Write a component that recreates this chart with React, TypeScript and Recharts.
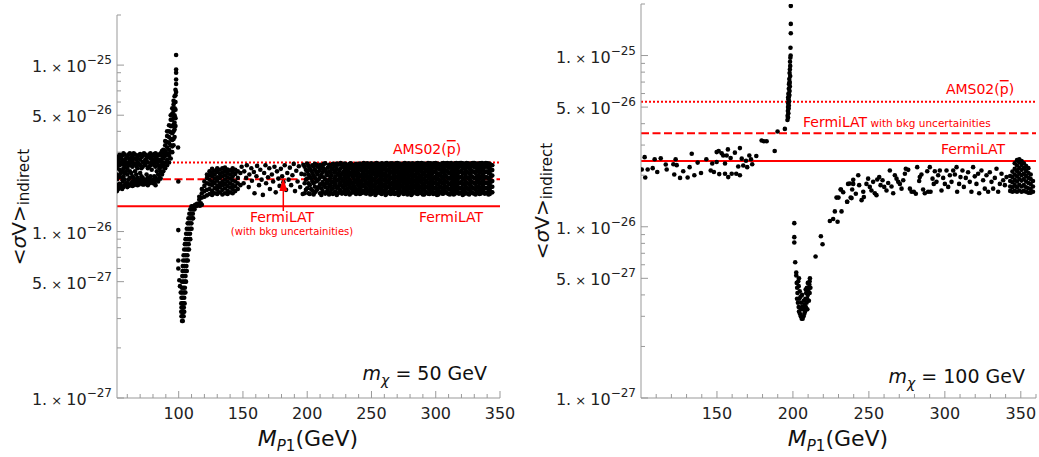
import React from 'react';
import { ScatterChart, Scatter, XAxis, YAxis, ReferenceLine } from 'recharts';

// all sigma-v values are in units of 1e-26 cm^3/s
const RED = '#ff0000';
const FRAME = '#999999';
const FONT = '"DejaVu Sans", sans-serif';

const yMajor = [0.1, 0.5, 1, 5, 10];
const yMinor = [0.2, 0.3, 0.4, 0.6, 0.7, 0.8, 0.9, 2, 3, 4, 6, 7, 8, 9, 20];
const yTickLabels = [
  { v: 0.1, mant: '1.', exp: '−27' },
  { v: 0.5, mant: '5.', exp: '−27' },
  { v: 1, mant: '1.', exp: '−26' },
  { v: 5, mant: '5.', exp: '−26' },
  { v: 10, mant: '1.', exp: '−25' },
];
const leftXMajor = [100, 150, 200, 250, 300, 350];
const leftXMinor = [60, 70, 80, 90, 110, 120, 130, 140, 160, 170, 180, 190, 210, 220, 230, 240, 260, 270, 280, 290, 310, 320, 330, 340];
const rightXMajor = [150, 200, 250, 300, 350];
const rightXMinor = [110, 120, 130, 140, 160, 170, 180, 190, 210, 220, 230, 240, 260, 270, 280, 290, 310, 320, 330, 340, 360];

// limit lines: AMS02 (dotted), FermiLAT with bkg (dashed), FermiLAT (solid)
const leftLimits = [2.6, 2.06, 1.42];
const rightLimits = [5.37, 3.52, 2.42];

type Col = [number, number[]];

// ---- m_chi = 50 GeV ----
const leftBandCols: Col[] = [
  [52, [1.75, 1.9, 2.05, 2.2, 2.4, 2.6, 2.8]],
  [53, [1.8, 2.12, 2.5, 2.7]],
  [54, [1.85, 1.95, 2.15, 2.35, 2.5, 2.75, 2.9]],
  [55, [1.9, 2.25, 2.6, 2.8]],
  [56, [1.8, 2.0, 2.1, 2.3, 2.55, 2.7, 2.85]],
  [57, [1.85, 2.15, 2.4, 2.95]],
  [58, [1.9, 2.05, 2.25, 2.45, 2.65, 2.9]],
  [59, [1.95, 2.3, 2.55, 2.75]],
  [60, [1.85, 1.95, 2.2, 2.4, 2.6, 2.8]],
  [61, [1.88, 2.05, 2.5, 2.9]],
  [62, [1.9, 2.1, 2.3, 2.5, 2.7, 2.95]],
  [63, [1.95, 2.25, 2.6, 2.78]],
  [64, [1.88, 2.0, 2.15, 2.45, 2.65, 2.85]],
  [65, [1.9, 2.1, 2.55, 2.95]],
  [66, [1.92, 2.05, 2.3, 2.55, 2.75, 2.9]],
  [67, [1.98, 2.2, 2.48, 2.7]],
  [68, [1.9, 2.1, 2.4, 2.6, 2.8]],
  [69, [1.92, 2.02, 2.55, 2.88]],
  [70, [1.95, 2.05, 2.25, 2.5, 2.7, 2.92]],
  [71, [1.98, 2.15, 2.4, 2.8]],
  [72, [1.92, 2.1, 2.45, 2.62, 2.85]],
  [73, [1.92, 2.0, 2.58, 2.95]],
  [74, [1.95, 2.05, 2.5, 2.7, 2.9]],
  [75, [2.0, 2.2, 2.65, 2.82]],
  [76, [1.9, 2.1, 2.4, 2.6, 2.8]],
  [77, [1.95, 2.05, 2.45, 2.9]],
  [78, [1.98, 2.15, 2.5, 2.75, 2.95]],
  [79, [2.02, 2.35, 2.62, 2.8]],
  [80, [1.95, 2.05, 2.55, 2.7, 2.88]],
  [81, [1.98, 2.15, 2.5, 2.92]],
  [82, [1.9, 2.1, 2.45, 2.65, 2.8, 2.95]],
  [83, [2.05, 2.3, 2.6, 2.82]],
  [84, [2.0, 2.2, 2.5, 2.7, 2.9]],
  [85, [2.1, 2.4, 2.65, 2.88]],
  [86, [2.08, 2.3, 2.5, 2.7, 2.95]],
  [87, [2.2, 2.45, 2.62, 2.85, 3.05]],
  [88, [2.3, 2.5, 2.75, 2.95, 3.1]],
  [89.5, [2.4, 2.6, 2.85, 3.05, 3.3, 3.5]],
  [91, [2.5, 2.7, 2.95, 3.2, 3.45, 3.75, 4.0]],
  [92.5, [2.6, 2.85, 3.1, 3.4, 3.7, 4.0, 4.35]],
  [93.8, [2.75, 3.0, 3.3, 3.6, 3.95, 4.3, 4.7, 5.0]],
  [95, [3.0, 3.25, 3.55, 3.9, 4.3, 4.7, 5.1, 5.5]],
  [96, [3.3, 3.6, 4.0, 4.4, 4.8, 5.3, 5.8, 6.1]],
  [96.8, [3.7, 4.1, 4.5, 5.0, 5.5, 6.0, 6.5]],
  [97.5, [4.3, 4.8, 5.4, 6.0, 6.6, 7.1]],
  [98, [6.9, 7.7, 8.2, 9.0, 9.4, 11.5]],
];
const leftOutliers = [[99.5, 3.2], [99.7, 2.0], [99.7, 1.02], [99.7, 0.67], [99.7, 0.6], [100.5, 0.51], [101, 0.47], [101.6, 0.43]];
const leftFallRows: Col[] = [
  [0.29, [102.6, 103.2]],
  [0.31, [102.2, 103, 103.8]],
  [0.33, [102, 102.8, 103.6, 104.3]],
  [0.35, [102.2, 103, 104]],
  [0.37, [102, 102.9, 103.8, 104.6]],
  [0.4, [102.2, 103.2, 104.3]],
  [0.43, [102.3, 103.4, 104.5, 105.2]],
  [0.46, [102.5, 103.6, 104.8]],
  [0.5, [102.6, 103.8, 105, 105.7]],
  [0.54, [102.8, 104, 105.3]],
  [0.58, [103, 104.3, 105.6, 106.3]],
  [0.62, [103.2, 104.6, 106]],
  [0.67, [103.5, 105, 106.4, 107.1]],
  [0.72, [103.8, 105.3, 106.8]],
  [0.78, [104.3, 105.8, 107.3, 108]],
  [0.84, [104.8, 106.3, 107.8]],
  [0.9, [105.3, 106.8, 108.3, 109]],
  [0.97, [105.8, 107.3, 108.8]],
  [1.04, [106.3, 107.8, 109.3, 110]],
  [1.12, [107, 108.4, 109.9]],
  [1.2, [107.6, 109, 110.5, 111.2]],
  [1.28, [108.3, 109.6, 111]],
  [1.36, [109, 110.3, 111.6, 112.3]],
  [1.42, [110, 111.2, 112.2]],
];
const leftFlat = [[112.8, 1.45], [113.5, 1.42], [114.3, 1.47], [115, 1.44], [115.8, 1.46], [116.5, 1.43], [117.2, 1.48], [118, 1.45]];
const leftCloudCols: Col[] = [
  [116, [1.55, 1.62]],
  [118, [1.6, 1.7, 1.8]],
  [120, [1.62, 1.75, 1.88, 2.0]],
  [122, [1.65, 1.78, 1.95, 2.1, 2.2]],
  [124, [1.68, 1.8, 1.92, 2.05, 2.18, 2.3]],
  [126, [1.66, 1.75, 1.9, 2.0, 2.15, 2.25, 2.38]],
  [128, [1.7, 1.82, 1.96, 2.08, 2.2, 2.32]],
  [130, [1.68, 1.78, 1.88, 2.02, 2.12, 2.28, 2.4]],
  [132, [1.72, 1.85, 1.95, 2.1, 2.22, 2.35]],
  [134, [1.67, 1.78, 1.9, 2.0, 2.15, 2.27, 2.4]],
  [136, [1.7, 1.82, 1.93, 2.05, 2.18, 2.3, 2.42]],
  [138, [1.68, 1.76, 1.88, 2.0, 2.12, 2.25, 2.36]],
  [140, [1.72, 1.84, 1.95, 2.08, 2.2, 2.33]],
  [142, [1.7, 1.8, 1.9, 2.03, 2.15, 2.28, 2.4]],
  [144, [1.75, 1.87, 2.0, 2.22, 2.35]],
  [146, [1.8, 1.95, 2.1, 2.3]],
  [148, [1.9, 2.25]],
];
const leftSparse = [
  [149, 2.45], [150.5, 1.95], [151, 2.3], [152.5, 2.1], [153, 2.5], [154.5, 1.85], [155, 2.2], [156.5, 2.4],
  [157, 2.02], [158.5, 2.28], [159, 1.7], [160.5, 2.15], [161, 2.48], [162.5, 1.9], [163.5, 2.35], [164.5, 2.05],
  [165.5, 1.66], [166.5, 2.25], [167.5, 2.5], [168, 1.95], [169.5, 2.12], [170.5, 2.4], [171, 1.8], [172.5, 2.2],
  [173.5, 2.0], [174.5, 2.45], [175.5, 1.72], [176.5, 2.3], [177.5, 2.08], [178.5, 1.88], [179.5, 2.38], [180.5, 2.15],
  [181.5, 1.98], [182.5, 2.5], [183.5, 1.78], [184.5, 2.25], [185.5, 2.05], [186.5, 2.42], [187.5, 1.9], [188.5, 2.18],
  [189.5, 2.55], [190.5, 1.75], [191.5, 2.32], [192.5, 2.0], [193.5, 2.47], [194.5, 1.85], [195.5, 2.22], [196.5, 1.68], [197, 2.52],
];
const leftDenseCols: Col[] = [
  [198, [1.7, 1.95, 2.2, 2.45]], [200, [1.82, 2.08, 2.3, 2.56]], [202, [1.68, 1.9, 2.15, 2.4]],
  [204, [1.76, 2.0, 2.25, 2.5]], [206, [1.72, 1.86, 2.1, 2.35, 2.55]], [208, [1.8, 2.02, 2.2, 2.45]],
  [210, [1.7, 1.92, 2.12, 2.38, 2.52]], [212, [1.75, 1.98, 2.28, 2.48]], [214, [1.69, 1.85, 2.06, 2.32, 2.57]],
  [216, [1.78, 1.95, 2.18, 2.42]], [218, [1.72, 1.88, 2.1, 2.26, 2.5]], [220, [1.68, 1.82, 2.0, 2.36, 2.55]],
  [222, [1.74, 1.93, 2.15, 2.3, 2.46]], [224, [1.7, 1.86, 2.05, 2.22, 2.52]], [226, [1.77, 1.97, 2.12, 2.4, 2.58]],
  [228, [1.71, 1.84, 2.02, 2.28, 2.47]], [230, [1.68, 1.9, 2.08, 2.2, 2.36, 2.54]], [232, [1.75, 1.96, 2.14, 2.32, 2.5]],
  [234, [1.7, 1.83, 2.0, 2.25, 2.43, 2.57]], [236, [1.73, 1.9, 2.1, 2.3, 2.48]], [238, [1.68, 1.8, 1.98, 2.18, 2.38, 2.55]],
  [240, [1.72, 1.88, 2.05, 2.24, 2.44]], [242, [1.7, 1.85, 2.0, 2.16, 2.34, 2.52]], [244, [1.76, 1.92, 2.1, 2.28, 2.46, 2.58]],
  [246, [1.69, 1.82, 1.97, 2.2, 2.4, 2.55]], [248, [1.74, 1.9, 2.06, 2.26, 2.5]], [250, [1.68, 1.8, 1.95, 2.12, 2.32, 2.45, 2.57]],
  [252, [1.72, 1.86, 2.02, 2.2, 2.38, 2.53]], [254, [1.7, 1.82, 1.98, 2.15, 2.3, 2.48, 2.58]], [256, [1.75, 1.9, 2.06, 2.24, 2.42, 2.55]],
  [258, [1.68, 1.8, 1.94, 2.1, 2.28, 2.46, 2.57]], [260, [1.73, 1.87, 2.02, 2.18, 2.36, 2.52]], [262, [1.69, 1.83, 1.98, 2.14, 2.32, 2.5, 2.58]],
  [264, [1.74, 1.9, 2.06, 2.22, 2.4, 2.55]], [266, [1.7, 1.82, 1.96, 2.12, 2.3, 2.46, 2.57]], [268, [1.68, 1.86, 2.02, 2.19, 2.37, 2.53]],
  [270, [1.72, 1.85, 1.99, 2.15, 2.33, 2.49, 2.58]], [272, [1.69, 1.8, 1.93, 2.08, 2.26, 2.44, 2.56]], [274, [1.74, 1.88, 2.04, 2.2, 2.38, 2.52]],
  [276, [1.7, 1.83, 1.97, 2.13, 2.3, 2.47, 2.58]], [278, [1.67, 1.79, 1.92, 2.06, 2.24, 2.41, 2.55]], [280, [1.72, 1.86, 2.0, 2.17, 2.35, 2.5]],
  [282, [1.69, 1.81, 1.95, 2.1, 2.28, 2.45, 2.57]], [284, [1.74, 1.88, 2.03, 2.2, 2.38, 2.54]], [286, [1.68, 1.8, 1.93, 2.08, 2.25, 2.42, 2.58]],
  [288, [1.71, 1.84, 1.99, 2.15, 2.32, 2.49, 2.57]], [290, [1.67, 1.78, 1.91, 2.05, 2.22, 2.4, 2.55]], [292, [1.73, 1.87, 2.02, 2.18, 2.36, 2.52]],
  [294, [1.69, 1.82, 1.96, 2.12, 2.29, 2.46, 2.58]], [296, [1.72, 1.85, 2.0, 2.16, 2.34, 2.5, 2.57]], [298, [1.68, 1.8, 1.94, 2.09, 2.26, 2.43, 2.56]],
  [300, [1.71, 1.84, 1.98, 2.14, 2.31, 2.48, 2.58]], [302, [1.67, 1.79, 1.92, 2.07, 2.23, 2.4, 2.55]], [304, [1.73, 1.86, 2.01, 2.17, 2.35, 2.51]],
  [306, [1.69, 1.81, 1.95, 2.11, 2.28, 2.45, 2.58]], [308, [1.72, 1.85, 1.99, 2.15, 2.32, 2.49, 2.57]], [310, [1.68, 1.8, 1.93, 2.08, 2.25, 2.42, 2.56]],
  [312, [1.71, 1.83, 1.97, 2.13, 2.3, 2.47, 2.58]], [314, [1.67, 1.78, 1.91, 2.06, 2.22, 2.39, 2.54]], [316, [1.73, 1.86, 2.0, 2.16, 2.34, 2.5, 2.58]],
  [318, [1.69, 1.82, 1.96, 2.11, 2.28, 2.45, 2.57]], [320, [1.72, 1.84, 1.98, 2.14, 2.31, 2.48, 2.58]], [322, [1.68, 1.8, 1.93, 2.08, 2.24, 2.41, 2.56]],
  [324, [1.7, 1.83, 1.97, 2.12, 2.29, 2.46, 2.58]], [326, [1.67, 1.79, 1.92, 2.07, 2.23, 2.4, 2.55]], [328, [1.72, 1.85, 1.99, 2.15, 2.32, 2.49, 2.57]],
  [330, [1.69, 1.81, 1.95, 2.1, 2.27, 2.44, 2.58]], [332, [1.71, 1.84, 1.98, 2.13, 2.3, 2.47, 2.56]], [334, [1.68, 1.8, 1.94, 2.09, 2.26, 2.43, 2.57]],
  [336, [1.72, 1.85, 2.0, 2.16, 2.33, 2.5, 2.58]], [338, [1.69, 1.82, 1.96, 2.11, 2.28, 2.45, 2.56]], [340, [1.71, 1.83, 1.97, 2.12, 2.29, 2.46, 2.57]],
  [342, [1.68, 1.8, 1.93, 2.07, 2.24, 2.41, 2.55]], [344, [1.72, 1.86, 2.01, 2.17, 2.34, 2.5]],
];
const leftDenseOddCols: Col[] = [
  [199, [1.78, 2.05, 2.35]], [201, [1.7, 1.95, 2.2, 2.48]], [203, [1.8, 2.08, 2.32]], [205, [1.67, 1.95, 2.18, 2.45]],
  [207, [1.76, 2.0, 2.28, 2.52]], [209, [1.85, 2.06, 2.3]], [211, [1.66, 1.82, 2.2, 2.44]], [213, [1.9, 2.12, 2.38, 2.55]],
  [215, [1.73, 1.96, 2.22]], [217, [1.67, 1.86, 2.04, 2.3, 2.52]], [219, [1.8, 1.98, 2.18, 2.4]], [221, [1.72, 1.9, 2.08, 2.26, 2.48]],
  [223, [1.66, 1.83, 2.02, 2.38, 2.56]], [225, [1.78, 1.93, 2.16, 2.32]], [227, [1.69, 1.88, 2.06, 2.22, 2.52]], [229, [1.76, 1.95, 2.14, 2.4, 2.56]],
  [231, [1.72, 1.82, 2.0, 2.28, 2.45]], [233, [1.67, 1.88, 2.06, 2.22, 2.4, 2.55]], [235, [1.78, 1.95, 2.16, 2.36, 2.52]], [237, [1.71, 1.86, 2.03, 2.25, 2.44]],
  [239, [1.75, 1.93, 2.1, 2.3, 2.48]], [241, [1.68, 1.8, 1.96, 2.14, 2.38, 2.56]], [243, [1.74, 1.9, 2.05, 2.22, 2.42]], [245, [1.7, 1.85, 2.02, 2.16, 2.33, 2.5]],
  [247, [1.77, 1.93, 2.1, 2.3, 2.45, 2.57]], [249, [1.67, 1.83, 2.0, 2.18, 2.38, 2.54]], [251, [1.75, 1.89, 2.06, 2.25, 2.41, 2.52]], [253, [1.66, 1.78, 1.93, 2.1, 2.26, 2.44, 2.56]],
  [255, [1.72, 1.85, 2.0, 2.18, 2.35, 2.5]], [257, [1.7, 1.83, 1.98, 2.15, 2.33, 2.52]], [259, [1.76, 1.9, 2.05, 2.22, 2.4, 2.55]], [261, [1.66, 1.79, 1.92, 2.08, 2.25, 2.44, 2.57]],
  [263, [1.72, 1.86, 2.0, 2.17, 2.35, 2.52]], [265, [1.68, 1.8, 1.94, 2.1, 2.27, 2.43, 2.56]], [267, [1.75, 1.89, 2.05, 2.22, 2.4, 2.54]], [269, [1.7, 1.82, 1.96, 2.11, 2.28, 2.46, 2.57]],
  [271, [1.66, 1.78, 1.91, 2.07, 2.24, 2.42, 2.55]], [273, [1.73, 1.86, 2.0, 2.16, 2.33, 2.5]], [275, [1.68, 1.8, 1.95, 2.1, 2.27, 2.44, 2.56]], [277, [1.74, 1.88, 2.03, 2.2, 2.37, 2.53]],
  [279, [1.7, 1.83, 1.97, 2.13, 2.3, 2.48, 2.57]], [281, [1.66, 1.78, 1.91, 2.05, 2.22, 2.4, 2.55]], [283, [1.72, 1.85, 2.0, 2.16, 2.34, 2.51]], [285, [1.69, 1.81, 1.96, 2.12, 2.3, 2.47, 2.57]],
  [287, [1.75, 1.88, 2.04, 2.2, 2.38, 2.54]], [289, [1.7, 1.83, 1.97, 2.13, 2.3, 2.46, 2.58]], [291, [1.67, 1.8, 1.94, 2.09, 2.27, 2.44, 2.56]], [293, [1.72, 1.86, 2.01, 2.17, 2.34, 2.51]],
  [295, [1.68, 1.79, 1.93, 2.08, 2.24, 2.41, 2.55]], [297, [1.74, 1.88, 2.03, 2.2, 2.38, 2.54]], [299, [1.7, 1.82, 1.96, 2.12, 2.29, 2.46, 2.57]], [301, [1.66, 1.78, 1.92, 2.06, 2.22, 2.4, 2.55]],
  [303, [1.73, 1.86, 2.01, 2.18, 2.36, 2.52]], [305, [1.69, 1.81, 1.95, 2.1, 2.27, 2.44, 2.57]], [307, [1.75, 1.88, 2.03, 2.2, 2.37, 2.53]], [309, [1.7, 1.83, 1.97, 2.12, 2.29, 2.47, 2.58]],
  [311, [1.67, 1.79, 1.93, 2.08, 2.25, 2.42, 2.55]], [313, [1.73, 1.86, 2.01, 2.17, 2.34, 2.51]], [315, [1.69, 1.81, 1.95, 2.11, 2.28, 2.45, 2.57]], [317, [1.75, 1.88, 2.04, 2.2, 2.38, 2.54]],
  [319, [1.7, 1.82, 1.96, 2.12, 2.29, 2.46, 2.58]], [321, [1.66, 1.78, 1.92, 2.07, 2.24, 2.41, 2.56]], [323, [1.73, 1.86, 2.0, 2.16, 2.34, 2.51]], [325, [1.69, 1.81, 1.95, 2.1, 2.27, 2.44, 2.57]],
  [327, [1.75, 1.88, 2.03, 2.19, 2.36, 2.53]], [329, [1.7, 1.83, 1.97, 2.12, 2.29, 2.47, 2.58]], [331, [1.67, 1.79, 1.93, 2.08, 2.25, 2.42, 2.55]], [333, [1.73, 1.86, 2.01, 2.17, 2.35, 2.52]],
  [335, [1.69, 1.81, 1.95, 2.11, 2.28, 2.45, 2.57]], [337, [1.75, 1.88, 2.04, 2.2, 2.38, 2.54]], [339, [1.7, 1.82, 1.96, 2.12, 2.29, 2.46, 2.58]], [341, [1.67, 1.79, 1.93, 2.08, 2.25, 2.42, 2.56]],
  [343, [1.73, 1.86, 2.0, 2.16, 2.34, 2.51]],
];

// ---- m_chi = 100 GeV ----
const rightLow = [
  [100.5, 2.16], [102.4, 2.55], [102.8, 1.94], [104.4, 2.16], [107.7, 2.2], [109, 2.48], [110.7, 2.09], [113, 2.51],
  [116.3, 2.31], [116.9, 2.16], [121.3, 2.32], [121.9, 2.02], [122.8, 2.48], [123.5, 2.29], [125.7, 1.93], [127.8, 2.11],
  [130.7, 1.94], [132, 2.23], [133.4, 2.67], [135.1, 2.0], [137.3, 2.37], [139.5, 2.06], [143, 2.48], [145.9, 2.13],
  [146.9, 2.34], [148, 2.09], [149.8, 2.73], [149.8, 2.39], [151.1, 2.77], [151.5, 2.03], [153.1, 2.69], [154.1, 2.61],
  [155.3, 2.34], [155.3, 2.04], [156.4, 2.61], [157.2, 2.83], [157.4, 1.95], [159, 2.52], [159.7, 2.04], [161.8, 2.71],
  [162.7, 2.04], [164, 2.25], [165.1, 2.88], [165.1, 2.0], [166.3, 2.5], [167.3, 2.28], [169.1, 2.43], [169.9, 2.23],
  [171.3, 2.61], [172.4, 2.48], [173.2, 2.32], [175.9, 2.59], [179.4, 3.19], [180.9, 3.16], [182.7, 3.16], [188, 2.77],
  [189.9, 3.6], [194.7, 3.73],
];
const rightSpike = [
  [198.6, 19.5], [198.6, 15.3], [198.6, 13.5], [198.4, 11.1], [198.5, 10.0], [198.3, 9.7], [198.1, 9.2], [198.2, 8.7],
  [198.0, 8.3], [197.8, 7.9], [198.2, 7.6], [197.6, 7.3], [197.9, 7.0], [197.5, 6.8], [198.0, 6.6], [197.3, 6.4],
  [197.8, 6.2], [197.1, 6.0], [197.6, 5.85], [197.2, 5.7], [197.0, 5.55], [197.5, 5.4], [196.9, 5.25], [197.3, 5.1],
  [196.8, 5.0], [197.2, 4.9], [196.7, 4.75], [197.0, 4.6], [196.5, 4.45], [196.8, 4.35], [196.4, 4.2], [197.4, 5.95],
  [196.9, 5.7], [197.6, 6.9], [197.1, 5.35],
];
const rightDip = [
  [200.9, 1.05], [200.9, 0.87], [200.9, 0.81], [201.5, 0.62], [202.2, 0.54], [202.2, 0.52],
  [202.5, 0.47], [202.8, 0.44], [203, 0.41], [202.7, 0.38], [203.3, 0.36], [203.8, 0.34], [204, 0.32], [204.6, 0.31],
  [205.2, 0.3], [205.8, 0.29], [206.4, 0.29], [207, 0.3], [207.5, 0.31], [208, 0.32], [208.5, 0.34], [209, 0.36],
  [209.4, 0.38], [209.8, 0.4], [210.2, 0.42], [210.5, 0.44], [210.8, 0.46], [211, 0.48], [211.2, 0.5], [203.8, 0.45],
  [204.5, 0.42], [205, 0.39], [205.5, 0.36], [206, 0.34], [206.8, 0.33], [207.6, 0.35], [208.2, 0.38], [208.7, 0.41],
  [209.2, 0.44], [209.8, 0.47], [204.2, 0.38], [205.3, 0.33], [207.2, 0.37], [208.4, 0.43], [206, 0.4], [209.5, 0.33],
  [210.5, 0.37], [211, 0.41], [211.5, 0.44], [203.5, 0.48], [204, 0.5],
  [214.9, 0.67], [218.4, 0.88], [219.5, 0.79], [224.3, 1.08], [226.5, 1.11], [229.4, 1.07], [227.6, 1.23], [232, 1.23],
  [228.7, 1.48], [230, 1.48], [231.4, 1.65], [233.1, 1.59], [235.7, 1.4], [236.3, 1.78], [238, 1.48], [237.5, 1.79], [239.7, 1.88],
];
const rightCloud = [
  [231.6, 1.65], [235.7, 1.4], [238.6, 1.47], [239.7, 1.78], [239, 1.65], [243, 2.0], [243.6, 1.75], [241.4, 1.56],
  [245.2, 1.43], [246.3, 1.6], [246.7, 1.49], [248.4, 1.78], [249.5, 1.91], [250.6, 1.71], [251.7, 1.63], [252.8, 1.83],
  [253.9, 1.57], [255, 1.53], [255.5, 1.89], [256.8, 1.95], [257.7, 1.75], [259, 1.87], [260.1, 1.71], [261.6, 1.63],
  [262.7, 1.8], [263.8, 2.13], [264.9, 1.72], [266, 1.57], [267.1, 2.0], [268.2, 1.91], [269.3, 1.83], [270.4, 1.78],
  [271.5, 1.67], [272.6, 1.87], [273.7, 2.04], [274.3, 2.18], [275.9, 2.15], [277, 1.67], [278.1, 1.6], [279.6, 1.6],
  [280.9, 1.56], [281.8, 2.23], [283.1, 1.85], [283.5, 1.95], [284.6, 2.02], [285.7, 1.65], [286.8, 1.57], [288.4, 2.11],
  [289, 1.6], [290.1, 2.23], [290.6, 1.6], [291.9, 1.91], [292.7, 1.78], [293.4, 2.11], [294.5, 1.83], [295.6, 2.0],
  [296.7, 2.13], [297.8, 1.63], [298.9, 1.93], [300, 1.78], [301.1, 2.13], [302.2, 1.71], [303.3, 2.0], [304.4, 1.83],
  [305.5, 2.13], [306.6, 2.02], [307.7, 2.23], [308.1, 1.6], [309.4, 1.78], [310.3, 1.95], [311.6, 2.13], [312.5, 1.71],
  [313.8, 1.93], [315.3, 2.08], [316.4, 1.83], [317.5, 1.6], [318.6, 2.23], [319.7, 1.97], [320.8, 1.78], [321.9, 2.04],
  [322.6, 1.57], [324.1, 2.13], [325.2, 1.87], [326.3, 1.67], [327.4, 2.0], [328.5, 1.6], [329.6, 2.08], [330.7, 1.83],
  [331.8, 1.67], [332.9, 1.93], [334, 2.18], [335.1, 1.6], [336.2, 1.78], [337.3, 2.04], [338.4, 1.87], [339.5, 1.75], [340.6, 1.95],
];
const rightEdgeCols: Col[] = [
  [343, [1.62, 1.72, 1.85, 1.98]],
  [344.5, [1.6, 1.7, 1.82, 1.95, 2.1]],
  [346, [1.62, 1.75, 1.88, 2.02, 2.18, 2.35]],
  [347.5, [1.6, 1.7, 1.84, 1.97, 2.12, 2.28, 2.45]],
  [349, [1.63, 1.76, 1.9, 2.05, 2.2, 2.38, 2.48]],
  [350.5, [1.6, 1.72, 1.86, 2.0, 2.15, 2.3, 2.42]],
  [352, [1.62, 1.75, 1.9, 2.04, 2.2, 2.35]],
  [353.5, [1.6, 1.7, 1.84, 1.98, 2.12, 2.26]],
  [355, [1.58, 1.68, 1.8, 1.93, 2.06, 2.2]],
  [356.5, [1.58, 1.66, 1.78, 1.9, 2.02]],
  [358, [1.6, 1.72, 1.85]],
];

const fromCols = (cols: Col[]) => cols.flatMap(([x, ys]) => ys.map((y) => ({ x, y })));
const fromRows = (rows: Col[]) => rows.flatMap(([y, xs]) => xs.map((x) => ({ x, y })));
const fromPairs = (ps: number[][]) => ps.map(([x, y]) => ({ x, y }));

const leftData = [
  ...fromCols(leftBandCols), ...fromPairs(leftOutliers), ...fromRows(leftFallRows), ...fromPairs(leftFlat),
  ...fromCols(leftCloudCols), ...fromPairs(leftSparse), ...fromCols(leftDenseCols), ...fromCols(leftDenseOddCols),
];
const rightData = [
  ...fromPairs(rightLow), ...fromPairs(rightSpike), ...fromPairs(rightDip), ...fromPairs(rightCloud), ...fromCols(rightEdgeCols),
];

const Dot = (p: any) => <circle cx={p.cx} cy={p.cy} r={2.3} fill="#000" />;

function FrameTick(props: any) {
  const { x, y, payload, side, majors } = props;
  const v = payload.value;
  const major = majors.includes(v);
  const len = major ? 7 : 4;
  let line = null;
  let label = null;
  if (side === 'bottom') {
    line = <line x1={x} y1={y} x2={x} y2={y - len} stroke={FRAME} />;
    if (major) label = <text x={x} y={y + 21} textAnchor="middle" fontSize={16} fill="#222" fontFamily={FONT}>{v}</text>;
  } else if (side === 'top') {
    line = <line x1={x} y1={y} x2={x} y2={y + len} stroke={FRAME} />;
  } else if (side === 'left') {
    line = <line x1={x} y1={y} x2={x + len} y2={y} stroke={FRAME} />;
    const lab = yTickLabels.find((t) => t.v === v);
    if (lab) {
      label = (
        <text x={x - 5} y={y + 7} textAnchor="end" fontSize={16} fill="#222" fontFamily={FONT}>
          {lab.mant}
          <tspan fontSize={13}> × </tspan>
          10
          <tspan dy={-8} fontSize={12}>{lab.exp}</tspan>
        </text>
      );
    }
  } else {
    line = <line x1={x} y1={y} x2={x - len} y2={y} stroke={FRAME} />;
  }
  return <g>{line}{label}</g>;
}

function Panel({ data, xDomain, xMajor, xMinor, limits, left, width, marginTop, yAxisWidth, marginRight }: any) {
  const xTicks = [...xMajor, ...xMinor].sort((a: number, b: number) => a - b);
  const yTicks = [...yMajor, ...yMinor].sort((a, b) => a - b);
  const axisLine = { stroke: FRAME };
  return (
    <div style={{ position: 'absolute', left, top: 0 }}>
      <ScatterChart width={width} height={457} margin={{ top: marginTop, right: marginRight, bottom: 0, left: 0 }}>
        <XAxis xAxisId="b" dataKey="x" type="number" domain={xDomain} allowDataOverflow ticks={xTicks} interval={0}
          height={59} tickSize={0} tickMargin={0} tickLine={false} axisLine={axisLine}
          tick={<FrameTick side="bottom" majors={xMajor} />} />
        <XAxis xAxisId="t" orientation="top" dataKey="x" type="number" domain={xDomain} allowDataOverflow ticks={xTicks} interval={0}
          height={0} tickSize={0} tickMargin={0} tickLine={false} axisLine={axisLine}
          tick={<FrameTick side="top" majors={xMajor} />} />
        <YAxis yAxisId="l" dataKey="y" type="number" scale="log" domain={[0.1, 20]} allowDataOverflow ticks={yTicks} interval={0}
          width={yAxisWidth} tickSize={0} tickMargin={0} tickLine={false} axisLine={axisLine}
          tick={<FrameTick side="left" majors={yMajor} />} />
        <YAxis yAxisId="r" orientation="right" dataKey="y" type="number" scale="log" domain={[0.1, 20]} allowDataOverflow ticks={yTicks} interval={0}
          width={0} tickSize={0} tickMargin={0} tickLine={false} axisLine={axisLine}
          tick={<FrameTick side="right" majors={yMajor} />} />
        <ReferenceLine xAxisId="b" yAxisId="l" y={limits[0]} stroke={RED} strokeWidth={2} strokeDasharray="2 2" />
        <ReferenceLine xAxisId="b" yAxisId="l" y={limits[1]} stroke={RED} strokeWidth={2} strokeDasharray="8 3.5" />
        <ReferenceLine xAxisId="b" yAxisId="l" y={limits[2]} stroke={RED} strokeWidth={2} />
        <Scatter xAxisId="b" yAxisId="l" data={data} shape={Dot} isAnimationActive={false} />
      </ScatterChart>
    </div>
  );
}

const Pbar = () => <tspan style={{ textDecoration: 'overline' }}>p</tspan>;

export default function App() {
  return (
    <div style={{ position: 'absolute', left: 0, top: 0, width: 1039, height: 457, background: '#fff', fontFamily: FONT }}>
      <Panel data={leftData} xDomain={[52, 350]} xMajor={leftXMajor} xMinor={leftXMinor} limits={leftLimits}
        left={0} width={520} marginTop={15} yAxisWidth={117} marginRight={20} />
      <Panel data={rightData} xDomain={[100, 360]} xMajor={rightXMajor} xMinor={rightXMinor} limits={rightLimits}
        left={520} width={519} marginTop={4} yAxisWidth={121} marginRight={3} />
      <svg width={1039} height={457} style={{ position: 'absolute', left: 0, top: 0, pointerEvents: 'none' }} fontFamily={FONT}>
        {/* axis titles */}
        <text transform="translate(26,207) rotate(-90)" textAnchor="middle" fontSize={20} fill="#111">
          &lt;<tspan fontStyle="italic">σ</tspan>V&gt;<tspan fontSize={15} dy={3}>indirect</tspan>
        </text>
        <text transform="translate(549,201) rotate(-90)" textAnchor="middle" fontSize={20} fill="#111">
          &lt;<tspan fontStyle="italic">σ</tspan>V&gt;<tspan fontSize={15} dy={3}>indirect</tspan>
        </text>
        <text x={308} y={446} textAnchor="middle" fontSize={22} fill="#111">
          <tspan fontStyle="italic">M</tspan><tspan fontSize={15} dy={5}><tspan fontStyle="italic">P</tspan>1</tspan><tspan dy={-5}>(GeV)</tspan>
        </text>
        <text x={838} y={446} textAnchor="middle" fontSize={22} fill="#111">
          <tspan fontStyle="italic">M</tspan><tspan fontSize={15} dy={5}><tspan fontStyle="italic">P</tspan>1</tspan><tspan dy={-5}>(GeV)</tspan>
        </text>
        {/* mass labels */}
        <text x={487} y={380} textAnchor="end" fontSize={19} fill="#111">
          <tspan fontStyle="italic">m</tspan><tspan fontStyle="italic" fontSize={14} dy={5}>χ</tspan><tspan dy={-5}> = 50 GeV</tspan>
        </text>
        <text x={1025} y={383} textAnchor="end" fontSize={19} fill="#111">
          <tspan fontStyle="italic">m</tspan><tspan fontStyle="italic" fontSize={14} dy={5}>χ</tspan><tspan dy={-5}> = 100 GeV</tspan>
        </text>
        {/* left annotations */}
        <text x={427} y={154} textAnchor="middle" fontSize={14} fill={RED}>AMS02(<Pbar />)</text>
        <text x={451} y={222} textAnchor="middle" fontSize={14} fill={RED}>FermiLAT</text>
        <text x={282} y={222} textAnchor="middle" fontSize={14} fill={RED}>FermiLAT</text>
        <text x={292} y={235} textAnchor="middle" fontSize={10} fill={RED}>(with bkg uncertainities)</text>
        <line x1={283.3} y1={211} x2={283.3} y2={188} stroke={RED} strokeWidth={1.5} />
        <polygon points="283.3,178 279.3,191 287.3,191" fill={RED} />
        {/* right annotations */}
        <text x={980} y={94} textAnchor="middle" fontSize={14} fill={RED}>AMS02(<Pbar />)</text>
        <text x={803} y={127} fontSize={14} fill={RED}>FermiLAT<tspan fontSize={10.5}> with bkg uncertainities</tspan></text>
        <text x={973} y={154} textAnchor="middle" fontSize={14} fill={RED}>FermiLAT</text>
      </svg>
    </div>
  );
}
